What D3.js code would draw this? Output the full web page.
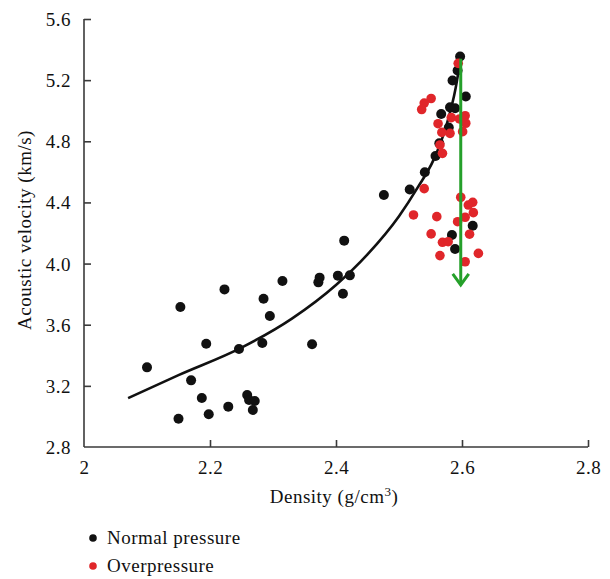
<!DOCTYPE html>
<html>
<head>
<meta charset="utf-8">
<script src="https://cdn.jsdelivr.net/npm/d3@7"></script>
<style>
  html, body { margin: 0; padding: 0; background: #fff; }
  svg { display: block; }
</style>
</head>
<body>
<svg id="chart" width="610" height="579"></svg>
<script>
// Density (g/cm3) and acoustic velocity (km/s) of samples
const normalPressure = [
  [2.100, 3.321], [2.153, 3.716], [2.150, 2.985], [2.170, 3.236], [2.187, 3.120],
  [2.194, 3.476], [2.198, 3.014], [2.223, 3.831], [2.229, 3.064], [2.246, 3.441],
  [2.259, 3.140], [2.262, 3.107], [2.271, 3.101], [2.268, 3.042], [2.283, 3.480],
  [2.285, 3.770], [2.295, 3.657], [2.315, 3.886], [2.362, 3.472], [2.372, 3.877],
  [2.374, 3.908], [2.403, 3.921], [2.411, 3.803], [2.413, 4.150], [2.422, 3.923],
  [2.476, 4.449], [2.517, 4.485], [2.541, 4.597], [2.558, 4.704], [2.564, 4.787],
  [2.579, 4.890], [2.567, 4.979], [2.581, 5.022], [2.589, 5.016], [2.606, 5.093],
  [2.585, 5.198], [2.593, 5.263], [2.597, 5.355], [2.617, 4.248], [2.584, 4.187],
  [2.589, 4.095]
];

const overpressure = [
  [2.594, 5.310], [2.551, 5.080], [2.540, 5.050], [2.536, 5.008], [2.583, 4.955],
  [2.596, 4.946], [2.605, 4.967], [2.606, 4.918], [2.601, 4.863], [2.562, 4.915],
  [2.581, 4.852], [2.568, 4.858], [2.565, 4.776], [2.569, 4.721], [2.540, 4.490],
  [2.523, 4.318], [2.560, 4.307], [2.598, 4.434], [2.617, 4.401], [2.610, 4.383],
  [2.618, 4.333], [2.605, 4.303], [2.593, 4.274], [2.551, 4.194], [2.612, 4.192],
  [2.569, 4.139], [2.578, 4.143], [2.565, 4.052], [2.626, 4.067], [2.605, 4.012]
];

// Normal compaction trend
const trendLine = [
  [2.070, 3.120], [2.150, 3.270], [2.250, 3.450], [2.330, 3.640], [2.400, 3.860],
  [2.450, 4.060], [2.500, 4.310], [2.530, 4.500], [2.555, 4.680], [2.575, 4.900],
  [2.590, 5.150], [2.598, 5.350]
];

// Velocity drop under overpressure
const arrowDensity = 2.598;
const arrowFrom = 5.34;
const arrowTo = 3.86;

const xTicks = [2.0, 2.2, 2.4, 2.6, 2.8];
const xTickLabels = ["2", "2.2", "2.4", "2.6", "2.8"];
const yTicks = [2.8, 3.2, 3.6, 4.0, 4.4, 4.8, 5.2, 5.6];
const yTickLabels = ["2.8", "3.2", "3.6", "4.0", "4.4", "4.8", "5.2", "5.6"];

const legendItems = [
  { label: "Normal pressure", color: "#111111" },
  { label: "Overpressure", color: "#e0262a" }
];

const svg = d3.select("#chart");
const axisColor = "#3a3a3a";
const fontSize = 19;
const serif = "'Liberation Serif', 'Times New Roman', serif";

const x = d3.scaleLinear().domain([2.0, 2.8]).range([84, 588]);
const y = d3.scaleLinear().domain([2.8, 5.6]).range([447, 19]);

function styleText(sel) {
  return sel.attr("font-family", serif).attr("font-size", fontSize)
    .attr("letter-spacing", 0.5).attr("fill", "#111");
}

// X axis with inward ticks
const xAxis = svg.append("g").attr("transform", `translate(0,${y(2.8)})`)
  .call(d3.axisBottom(x).tickValues(xTicks).tickSize(0).tickPadding(0).tickFormat(() => ""));
xAxis.attr("font-family", null).attr("font-size", null);
xAxis.selectAll(".tick text").remove();
xAxis.select(".domain").attr("stroke", axisColor).attr("stroke-width", 1.6).attr("d", `M${x(2.0)},0H${x(2.8)}`);
xAxis.selectAll(".tick line").attr("y2", -7).attr("stroke", axisColor).attr("stroke-width", 1.6);
xAxis.selectAll(".tick").filter(d => d === 2.0).select("line").remove();
xAxis.selectAll(".tick").append("text")
  .call(styleText)
  .attr("y", 27).attr("text-anchor", "middle")
  .text((d, i) => xTickLabels[i]);

// Y axis with inward ticks
const yAxis = svg.append("g").attr("transform", `translate(${x(2.0)},0)`)
  .call(d3.axisLeft(y).tickValues(yTicks).tickSize(0).tickPadding(0).tickFormat(() => ""));
yAxis.attr("font-family", null).attr("font-size", null);
yAxis.selectAll(".tick text").remove();
yAxis.select(".domain").attr("stroke", axisColor).attr("stroke-width", 1.6).attr("d", `M0,${y(2.8)}V${y(5.6)}`);
yAxis.selectAll(".tick line").attr("x2", 7).attr("stroke", axisColor).attr("stroke-width", 1.6);
yAxis.selectAll(".tick").filter(d => d === 2.8).select("line").remove();
yAxis.selectAll(".tick").append("text")
  .call(styleText)
  .attr("x", -13).attr("dy", "0.34em").attr("text-anchor", "end")
  .text((d, i) => yTickLabels[i]);

// Axis titles
const xTitle = svg.append("text").call(styleText)
  .attr("x", 334).attr("y", 503).attr("text-anchor", "middle");
xTitle.append("tspan").text("Density (g/cm");
xTitle.append("tspan").attr("font-size", 13).attr("dy", -7).text("3");
xTitle.append("tspan").attr("dy", 7).text(")");

svg.append("text").call(styleText)
  .attr("transform", `translate(31,${230}) rotate(-90)`)
  .attr("text-anchor", "middle")
  .text("Acoustic velocity (km/s)");

// Trend curve
const line = d3.line().x(d => x(d[0])).y(d => y(d[1])).curve(d3.curveMonotoneX);
svg.append("path").datum(trendLine)
  .attr("d", line).attr("fill", "none").attr("stroke", "#111").attr("stroke-width", 2.6);

// Scatter points
svg.append("g").selectAll("circle").data(normalPressure).join("circle")
  .attr("cx", d => x(d[0])).attr("cy", d => y(d[1])).attr("r", 5)
  .attr("fill", legendItems[0].color);

svg.append("g").selectAll("circle").data(overpressure).join("circle")
  .attr("cx", d => x(d[0])).attr("cy", d => y(d[1])).attr("r", 4.8)
  .attr("fill", legendItems[1].color);

// Green arrow
const green = "#25a02a";
svg.append("line")
  .attr("x1", x(arrowDensity)).attr("x2", x(arrowDensity))
  .attr("y1", y(arrowFrom)).attr("y2", y(arrowTo) - 1)
  .attr("stroke", green).attr("stroke-width", 3);
svg.append("path")
  .attr("d", `M${x(arrowDensity) - 8},${y(arrowTo) - 11}L${x(arrowDensity)},${y(arrowTo)}L${x(arrowDensity) + 8},${y(arrowTo) - 11}`)
  .attr("fill", "none").attr("stroke", green).attr("stroke-width", 3).attr("stroke-linejoin", "miter");

// Legend
const legend = svg.append("g").selectAll("g").data(legendItems).join("g")
  .attr("transform", (d, i) => `translate(93,${538 + i * 28})`);
legend.append("circle").attr("r", 3.8).attr("fill", d => d.color);
legend.append("text").call(styleText).attr("x", 14).attr("y", 6).text(d => d.label);
</script>
</body>
</html>
